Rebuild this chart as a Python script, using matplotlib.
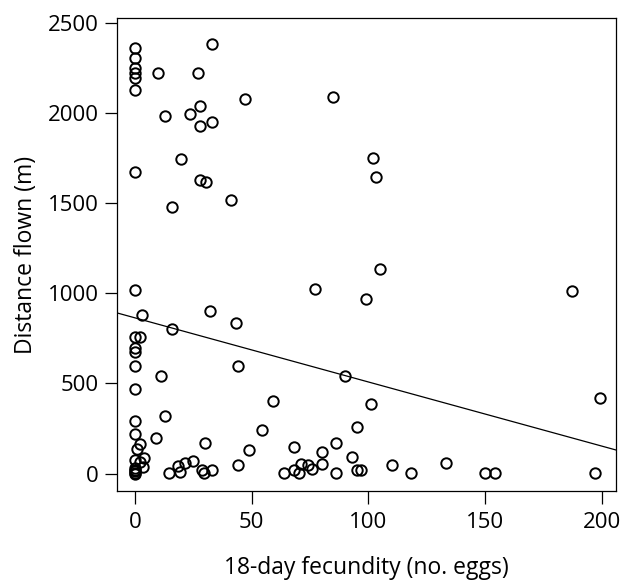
import numpy as np
import matplotlib.pyplot as plt

# 18-day fecundity (no. eggs) and distance flown (m)
fecundity = [
    0, 0, 0, 0, 0, 0, 0, 0, 0, 0, 0, 0, 0, 0, 0, 0, 0, 0, 0, 0, 0,
    3, 2.3, 2, 1, 4, 2, 3.5,
    10, 27, 33, 47, 28, 23.6, 12.7, 33, 28, 19.7, 27.8, 30.4, 41.1, 15.8,
    85, 102, 103,
    77, 105, 99, 187, 90, 199, 101, 95, 86, 80, 93, 74, 80, 76, 86, 95, 97,
    110, 118, 133, 150, 154, 197,
    59, 54.5, 49, 68, 71, 64, 68, 70.4,
    12.8, 8.9, 30, 14.7, 18.3, 19.3, 21.4, 24.8, 28.8, 29.6, 33, 44,
    16, 32, 43.1, 44.1, 11.1,
]
distance = [
    2360, 2305, 2250, 2225, 2195, 2130, 1675, 1020, 755, 695, 675, 597, 470,
    290, 220, 75, 0, 5, 12, 20, 30,
    880, 755, 162, 138, 86, 66, 38,
    2222, 2222, 2385, 2080, 2040, 1995, 1986, 1951, 1926, 1746, 1628, 1619,
    1519, 1481,
    2087, 1752, 1643,
    1022, 1135, 970, 1011, 541, 419, 386, 258, 171, 119, 92, 46, 54, 25, 3,
    18, 18, 47, 4, 57, 4, 4, 4,
    404, 240, 130, 149, 53, 4, 19, 1,
    319, 195, 171, 4, 42, 8, 60, 68, 19, 1, 19, 45,
    804, 904, 833, 597, 541,
]

# fitted regression line
intercept = 864
slope = -3.56

x_ticks = [0, 50, 100, 150, 200]
y_ticks = [0, 500, 1000, 1500, 2000, 2500]

plt.rcParams["font.family"] = ["Open Sans", "DejaVu Sans"]

fig = plt.figure(figsize=(6.22, 5.84), dpi=100)
ax = fig.add_axes([0.1881, 0.1592, 0.8023, 0.810])

ax.plot(fecundity, distance, linestyle="none", marker="o", markersize=7.5,
        markerfacecolor="none", markeredgecolor="black", markeredgewidth=1.4)
ax.axline((0, intercept), slope=slope, color="black", linewidth=0.9)

ax.set_xlim(-7.7, 206)
ax.set_ylim(-97, 2528)
ax.set_xticks(x_ticks)
ax.set_yticks(y_ticks)
ax.tick_params(axis="both", direction="out", length=9, width=0.9,
               labelsize=16, color="black")
ax.tick_params(axis="x", pad=6)
ax.tick_params(axis="y", pad=4)
for s in ax.spines.values():
    s.set_linewidth(0.9)

ax.set_xlabel("18-day fecundity (no. eggs)", fontsize=16.5, labelpad=17)
ax.set_ylabel("Distance flown (m)", fontsize=16.5, labelpad=7)

fig.savefig("out.png", dpi=100)
